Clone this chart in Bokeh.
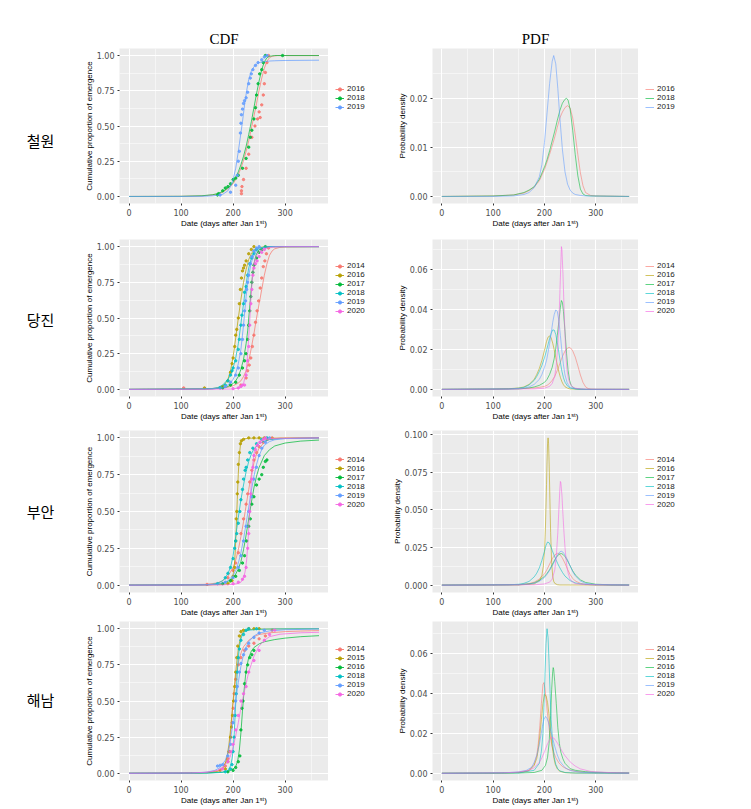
from bokeh.plotting import figure
from bokeh.models import Range1d, FixedTicker, NumeralTickFormatter, Legend, LegendItem
from bokeh.layouts import row, column
from bokeh.embed import file_html
from bokeh.resources import INLINE
from bokeh.core.properties import value

# ---------------- data (day, value) ----------------
SITE_NAMES = ["철원", "당진", "부안", "해남"]
CW_YEARS = ["2016", "2018", "2019"]
DJ_YEARS = ["2014", "2016", "2017", "2018", "2019", "2020"]
BA_YEARS = ["2014", "2016", "2017", "2018", "2019", "2020"]
HN_YEARS = ["2014", "2015", "2016", "2018", "2019", "2020"]

# ---- 철원 ----
CW_CDF_2016 = [(0,0),(100,0.001),(140,0.004),(160,0.01),(170,0.017),(180,0.03),(190,0.055),(200,0.09),(205,0.12),(210,0.155),(215,0.2),(220,0.255),(225,0.32),(230,0.395),(235,0.48),(240,0.57),(245,0.66),(250,0.755),(255,0.84),(260,0.91),(265,0.96),(270,0.985),(275,0.995),(285,1.0),(365,1.0)]
CW_CDF_2018 = [(0,0),(100,0.001),(140,0.005),(160,0.012),(170,0.02),(180,0.035),(190,0.06),(200,0.1),(205,0.135),(210,0.175),(215,0.225),(220,0.285),(225,0.355),(230,0.44),(235,0.53),(240,0.63),(245,0.73),(250,0.82),(255,0.9),(260,0.955),(265,0.985),(270,0.995),(280,1.0),(365,1.0)]
CW_CDF_2019 = [(0,0),(100,0.0),(140,0.001),(160,0.004),(170,0.008),(180,0.015),(190,0.04),(195,0.07),(200,0.12),(205,0.2),(210,0.32),(215,0.45),(218,0.53),(222,0.65),(226,0.75),(230,0.83),(235,0.89),(240,0.92),(245,0.94),(250,0.95),(260,0.957),(270,0.961),(280,0.963),(300,0.965),(365,0.967)]
CW_PDF_2016 = [(0,0),(100,0.0001),(140,0.0003),(160,0.0007),(170,0.0012),(180,0.0019),(190,0.0032),(200,0.0055),(205,0.007),(210,0.0086),(215,0.0103),(220,0.0121),(225,0.0141),(230,0.016),(235,0.0172),(240,0.0181),(245,0.0185),(250,0.018),(255,0.016),(260,0.0125),(265,0.0085),(270,0.0048),(275,0.0022),(280,0.0008),(290,0.0002),(300,0.0001),(365,0)]
CW_PDF_2018 = [(0,0),(100,0.0001),(140,0.0003),(160,0.0008),(170,0.0013),(180,0.002),(190,0.0035),(200,0.006),(205,0.0075),(210,0.0093),(215,0.0113),(220,0.0133),(225,0.0155),(230,0.0175),(235,0.019),(240,0.0198),(243,0.02),(246,0.0196),(250,0.0178),(255,0.0135),(260,0.0085),(265,0.0042),(270,0.0015),(275,0.0005),(280,0.0002),(290,0.0001),(365,0)]
CW_PDF_2019 = [(0,0),(100,0.0),(140,0.0001),(160,0.0004),(170,0.0008),(180,0.0018),(190,0.004),(195,0.0065),(200,0.011),(205,0.017),(210,0.023),(215,0.0275),(218,0.0287),(222,0.027),(226,0.022),(230,0.016),(235,0.0095),(240,0.005),(245,0.0025),(250,0.0013),(255,0.0007),(260,0.0004),(270,0.0002),(280,0.0001),(365,0)]
CW_OBS_2016 = [(216,0.02),(216,0.04),(217,0.07),(220,0.12),(225,0.2),(230,0.3),(236,0.42),(242,0.5),(247,0.55),(250,0.6),(252,0.56),(255,0.65),(258,0.72),(260,0.8),(262,0.88),(265,0.95),(268,1.0)]
CW_OBS_2018 = [(170,0.01),(172,0.02),(180,0.04),(185,0.06),(190,0.07),(195,0.09),(200,0.12),(205,0.13),(210,0.15),(218,0.2),(225,0.27),(230,0.35),(233,0.42),(236,0.47),(240,0.55),(243,0.63),(245,0.72),(248,0.8),(251,0.87),(255,0.9),(258,0.95),(262,1.0),(295,1.0)]
CW_OBS_2019 = [(175,0.01),(195,0.03),(205,0.08),(208,0.15),(210,0.25),(212,0.32),(214,0.45),(215,0.52),(216,0.58),(218,0.62),(220,0.66),(222,0.68),(225,0.7),(228,0.74),(230,0.8),(233,0.84),(235,0.87),(238,0.9),(243,0.93),(248,0.95),(255,0.97),(260,0.99),(265,1.0)]

# ---- 당진 ----
DJ_CDF_2014 = [(0,0),(100,0.002),(140,0.004),(160,0.006),(180,0.01),(190,0.015),(200,0.025),(210,0.045),(215,0.06),(220,0.09),(225,0.13),(230,0.2),(235,0.29),(240,0.39),(245,0.5),(250,0.6),(255,0.7),(260,0.8),(265,0.88),(270,0.94),(275,0.97),(280,0.985),(290,0.995),(300,0.998),(365,1.0)]
DJ_CDF_2016 = [(0,0),(140,0.002),(160,0.005),(170,0.01),(180,0.025),(185,0.04),(190,0.07),(195,0.13),(200,0.23),(205,0.36),(210,0.5),(215,0.63),(220,0.75),(225,0.84),(230,0.91),(235,0.95),(240,0.975),(245,0.99),(250,0.995),(260,0.999),(365,1.0)]
DJ_CDF_2017 = [(0,0),(160,0.003),(180,0.01),(190,0.02),(200,0.04),(205,0.06),(210,0.09),(215,0.14),(220,0.21),(225,0.32),(228,0.41),(231,0.54),(234,0.67),(237,0.79),(240,0.88),(244,0.94),(248,0.97),(252,0.985),(260,0.995),(270,1.0),(365,1.0)]
DJ_CDF_2018 = [(0,0),(140,0.002),(160,0.006),(170,0.012),(180,0.03),(190,0.07),(195,0.1),(200,0.15),(205,0.22),(210,0.32),(215,0.46),(220,0.6),(225,0.74),(230,0.85),(235,0.92),(240,0.96),(245,0.98),(250,0.99),(260,0.997),(270,1.0),(365,1.0)]
DJ_CDF_2019 = [(0,0),(160,0.003),(180,0.012),(190,0.03),(200,0.07),(205,0.11),(210,0.18),(215,0.28),(220,0.45),(225,0.65),(230,0.8),(235,0.89),(240,0.94),(245,0.97),(250,0.985),(260,0.995),(270,1.0),(365,1.0)]
DJ_CDF_2020 = [(0,0),(180,0.001),(200,0.002),(210,0.01),(220,0.04),(225,0.12),(228,0.25),(231,0.42),(234,0.62),(237,0.78),(240,0.88),(244,0.93),(248,0.955),(252,0.97),(260,0.985),(270,0.993),(280,0.997),(300,1.0),(365,1.0)]
DJ_PDF_2014 = [(0,0),(100,0.0001),(150,0.0003),(180,0.0007),(190,0.001),(200,0.0015),(205,0.002),(210,0.003),(215,0.0045),(220,0.0065),(225,0.0095),(230,0.013),(235,0.0165),(240,0.0192),(245,0.0207),(248,0.021),(251,0.0207),(255,0.0193),(260,0.0162),(265,0.0118),(270,0.0072),(275,0.0035),(280,0.0013),(285,0.0004),(290,0.0001),(300,0),(365,0)]
DJ_PDF_2016 = [(0,0),(100,0.0001),(130,0.0003),(150,0.0007),(160,0.0012),(170,0.0025),(180,0.005),(185,0.0075),(190,0.0105),(195,0.0145),(200,0.0195),(204,0.024),(207,0.0262),(210,0.0268),(213,0.0258),(216,0.0232),(219,0.0198),(222,0.016),(225,0.0122),(228,0.0088),(231,0.006),(234,0.0038),(237,0.0023),(240,0.0013),(245,0.0006),(250,0.0002),(260,0.0001),(270,0),(365,0)]
DJ_PDF_2017 = [(0,0),(150,0.0002),(170,0.0007),(180,0.0012),(190,0.002),(200,0.0035),(205,0.005),(210,0.0075),(215,0.011),(219,0.0155),(222,0.0205),(225,0.027),(228,0.034),(231,0.0412),(233,0.0445),(235,0.0435),(237,0.039),(240,0.029),(243,0.018),(246,0.0095),(249,0.0045),(252,0.002),(256,0.0008),(260,0.0004),(270,0.0001),(280,0),(365,0)]
DJ_PDF_2018 = [(0,0),(130,0.0002),(150,0.0006),(160,0.001),(170,0.0022),(180,0.0045),(185,0.0065),(190,0.009),(195,0.012),(200,0.0158),(204,0.0195),(207,0.0225),(210,0.0255),(213,0.028),(216,0.0298),(219,0.0297),(222,0.0275),(225,0.0235),(228,0.0185),(231,0.0135),(234,0.009),(237,0.0058),(240,0.0036),(245,0.0016),(250,0.0007),(260,0.0002),(270,0.0001),(280,0),(365,0)]
DJ_PDF_2019 = [(0,0),(140,0.0002),(160,0.0006),(170,0.0012),(180,0.0025),(190,0.005),(195,0.0075),(200,0.011),(204,0.0145),(207,0.0185),(210,0.023),(213,0.028),(216,0.0335),(219,0.0375),(222,0.0398),(225,0.039),(228,0.0345),(231,0.027),(234,0.019),(237,0.0122),(240,0.0072),(244,0.0035),(248,0.0016),(252,0.0008),(260,0.0003),(270,0.0001),(280,0),(365,0)]
DJ_PDF_2020 = [(0,0),(180,0.0002),(200,0.0006),(210,0.0015),(215,0.003),(220,0.0065),(223,0.012),(226,0.022),(228,0.033),(230,0.048),(232,0.064),(233,0.0715),(234,0.07),(236,0.058),(238,0.042),(240,0.027),(242,0.016),(244,0.0095),(247,0.005),(250,0.0028),(255,0.0012),(260,0.0006),(270,0.0002),(290,0.0001),(365,0)]
DJ_OBS_2014 = [(105,0.01),(215,0.03),(225,0.08),(228,0.13),(231,0.17),(234,0.22),(237,0.3),(240,0.38),(243,0.47),(246,0.55),(249,0.62),(252,0.71),(255,0.78),(258,0.86),(261,0.9),(264,0.95),(268,0.99)]
DJ_OBS_2016 = [(145,0.01),(180,0.02),(190,0.06),(195,0.12),(198,0.18),(200,0.22),(203,0.3),(205,0.38),(207,0.42),(210,0.5),(212,0.6),(214,0.7),(216,0.78),(218,0.83),(220,0.85),(222,0.87),(225,0.9),(230,0.95),(235,0.98),(240,1.0)]
DJ_OBS_2017 = [(180,0.01),(195,0.03),(205,0.05),(212,0.1),(218,0.15),(222,0.2),(225,0.25),(228,0.35),(230,0.45),(232,0.55),(234,0.65),(236,0.75),(238,0.82),(240,0.87),(245,0.92),(250,0.96),(255,0.98),(262,1.0)]
DJ_OBS_2018 = [(175,0.01),(185,0.03),(190,0.06),(195,0.1),(198,0.13),(200,0.15),(205,0.2),(210,0.28),(212,0.35),(215,0.45),(217,0.52),(220,0.6),(222,0.68),(225,0.72),(228,0.8),(232,0.88),(236,0.92),(240,0.95),(245,0.98)]
DJ_OBS_2019 = [(185,0.02),(195,0.05),(205,0.1),(210,0.15),(215,0.25),(218,0.35),(220,0.45),(222,0.55),(224,0.62),(226,0.7),(228,0.75),(230,0.8),(233,0.88),(236,0.93),(240,0.97),(245,0.99),(250,1.0)]
DJ_OBS_2020 = [(200,0.005),(210,0.01),(215,0.02),(218,0.03),(222,0.03),(225,0.1),(228,0.2),(230,0.3),(232,0.45),(234,0.6),(236,0.7),(238,0.8),(240,0.85),(243,0.88),(246,0.9),(250,0.93),(255,0.96),(260,0.98)]

# ---- 부안 ----
BA_CDF_2014 = [(0,0),(100,0.002),(150,0.006),(170,0.015),(180,0.03),(190,0.06),(200,0.12),(205,0.17),(210,0.24),(215,0.33),(220,0.43),(225,0.54),(230,0.65),(235,0.75),(240,0.83),(245,0.89),(250,0.93),(260,0.97),(270,0.99),(290,0.998),(365,1.0)]
BA_CDF_2016 = [(0,0),(150,0.001),(180,0.004),(190,0.01),(195,0.02),(198,0.04),(200,0.07),(202,0.12),(204,0.22),(206,0.39),(208,0.58),(210,0.76),(212,0.88),(214,0.95),(216,0.98),(220,0.993),(230,0.998),(365,1.0)]
BA_CDF_2017 = [(0,0),(150,0.002),(170,0.006),(180,0.012),(190,0.025),(200,0.05),(205,0.075),(210,0.11),(215,0.16),(220,0.24),(225,0.34),(230,0.45),(235,0.56),(240,0.66),(245,0.74),(250,0.8),(260,0.88),(270,0.92),(280,0.945),(300,0.965),(330,0.978),(365,0.985)]
BA_CDF_2018 = [(0,0),(140,0.002),(160,0.006),(170,0.012),(180,0.03),(185,0.05),(190,0.08),(195,0.12),(200,0.2),(205,0.33),(210,0.46),(215,0.58),(220,0.68),(225,0.77),(230,0.84),(235,0.89),(240,0.925),(250,0.96),(260,0.978),(270,0.988),(290,0.995),(365,1.0)]
BA_CDF_2019 = [(0,0),(150,0.002),(170,0.007),(180,0.015),(190,0.03),(200,0.065),(205,0.1),(210,0.15),(215,0.22),(220,0.31),(225,0.42),(230,0.53),(235,0.64),(240,0.74),(245,0.82),(250,0.88),(255,0.92),(260,0.95),(270,0.975),(280,0.987),(300,0.995),(365,0.999)]
BA_CDF_2020 = [(0,0),(180,0.001),(200,0.005),(210,0.012),(215,0.02),(220,0.05),(223,0.09),(226,0.17),(229,0.32),(231,0.45),(233,0.58),(235,0.7),(238,0.83),(241,0.91),(245,0.955),(250,0.977),(260,0.99),(280,0.997),(365,1.0)]
BA_PDF_2014 = [(0,0),(100,0.0001),(150,0.0003),(170,0.001),(180,0.002),(190,0.004),(200,0.0075),(205,0.0105),(210,0.014),(215,0.0175),(220,0.0201),(225,0.0212),(230,0.0205),(235,0.018),(240,0.0145),(245,0.0105),(250,0.007),(255,0.0045),(260,0.0028),(270,0.0012),(280,0.0005),(300,0.0001),(365,0)]
BA_PDF_2016 = [(0,0),(150,0.0001),(180,0.0008),(190,0.003),(195,0.0065),(198,0.013),(200,0.022),(202,0.04),(204,0.067),(205,0.082),(206,0.094),(207,0.098),(208,0.094),(209,0.082),(210,0.066),(211,0.05),(212,0.035),(214,0.015),(216,0.006),(218,0.0025),(220,0.0012),(225,0.0003),(230,0.0001),(365,0)]
BA_PDF_2017 = [(0,0),(150,0.0003),(170,0.0008),(180,0.0015),(190,0.0032),(200,0.0058),(205,0.0078),(210,0.0103),(215,0.0135),(220,0.0168),(225,0.0195),(230,0.0208),(233,0.021),(236,0.0205),(240,0.019),(245,0.0162),(250,0.0128),(255,0.0095),(260,0.0068),(270,0.0035),(280,0.0018),(300,0.0006),(330,0.0002),(365,0.0001)]
BA_PDF_2018 = [(0,0),(130,0.0002),(150,0.0006),(160,0.0012),(170,0.0025),(180,0.0055),(185,0.008),(190,0.0115),(195,0.0165),(200,0.0225),(203,0.0265),(206,0.0287),(209,0.0282),(212,0.026),(215,0.0232),(218,0.0205),(222,0.0172),(226,0.0142),(230,0.0115),(235,0.0085),(240,0.006),(250,0.003),(260,0.0015),(270,0.0008),(290,0.0003),(330,0.0001),(365,0)]
BA_PDF_2019 = [(0,0),(150,0.0002),(170,0.0007),(180,0.0013),(190,0.0025),(200,0.005),(205,0.0072),(210,0.0098),(215,0.0128),(220,0.016),(225,0.0198),(230,0.0222),(233,0.0225),(236,0.022),(240,0.02),(245,0.0167),(250,0.0128),(255,0.009),(260,0.0062),(270,0.0028),(280,0.0012),(300,0.0003),(365,0.0001)]
BA_PDF_2020 = [(0,0),(180,0.0002),(200,0.0008),(210,0.002),(215,0.004),(220,0.01),(223,0.019),(226,0.035),(228,0.05),(230,0.064),(231,0.069),(232,0.068),(234,0.06),(236,0.047),(238,0.035),(240,0.025),(243,0.014),(246,0.008),(250,0.004),(255,0.002),(260,0.001),(280,0.0003),(365,0)]
BA_OBS_2014 = [(150,0.005),(190,0.05),(200,0.1),(205,0.15),(210,0.22),(215,0.35),(220,0.45),(225,0.55),(228,0.62),(232,0.7),(236,0.78),(240,0.85),(245,0.9),(250,0.94),(258,0.97),(265,0.99),(275,1.0)]
BA_OBS_2016 = [(190,0.01),(198,0.03),(200,0.06),(203,0.12),(205,0.3),(206,0.45),(207,0.5),(208,0.62),(209,0.7),(210,0.82),(212,0.9),(214,0.96),(216,0.98),(220,0.99),(230,1.0),(240,1.0),(250,1.0),(260,1.0)]
BA_OBS_2017 = [(180,0.01),(195,0.03),(205,0.06),(212,0.1),(218,0.15),(222,0.2),(226,0.3),(230,0.4),(233,0.45),(236,0.55),(240,0.6),(245,0.68),(250,0.72),(255,0.75),(258,0.8),(262,0.84),(265,0.85)]
BA_OBS_2018 = [(170,0.01),(185,0.05),(190,0.08),(195,0.12),(200,0.18),(203,0.25),(205,0.3),(207,0.35),(210,0.42),(213,0.5),(215,0.58),(218,0.65),(220,0.72),(223,0.78),(225,0.8),(228,0.85),(232,0.9),(238,0.93),(245,0.96),(255,0.99),(265,1.0)]
BA_OBS_2019 = [(185,0.02),(200,0.05),(210,0.12),(215,0.2),(220,0.3),(225,0.4),(230,0.5),(235,0.6),(240,0.72),(245,0.8),(250,0.88),(255,0.93),(262,0.97),(270,1.0)]
BA_OBS_2020 = [(200,0.01),(210,0.02),(218,0.04),(222,0.06),(225,0.12),(228,0.25),(230,0.35),(232,0.5),(234,0.62),(236,0.72),(238,0.8),(240,0.88),(243,0.92),(247,0.95),(252,0.97),(258,0.99),(262,1.0)]

# ---- 해남 ----
HN_CDF_2014 = [(0,0),(100,0.001),(140,0.004),(160,0.01),(170,0.018),(180,0.04),(185,0.07),(190,0.13),(193,0.19),(196,0.31),(199,0.445),(202,0.565),(205,0.655),(208,0.73),(212,0.795),(216,0.84),(220,0.875),(230,0.92),(240,0.945),(250,0.96),(270,0.972),(300,0.98),(330,0.984),(365,0.987)]
HN_CDF_2015 = [(0,0),(120,0.001),(150,0.004),(170,0.012),(180,0.03),(183,0.055),(186,0.08),(189,0.13),(192,0.2),(195,0.3),(198,0.42),(201,0.54),(204,0.66),(207,0.77),(210,0.86),(213,0.92),(216,0.96),(220,0.98),(230,0.993),(240,0.998),(365,1.0)]
HN_CDF_2016 = [(0,0),(150,0.002),(180,0.008),(195,0.02),(202,0.035),(206,0.055),(209,0.09),(212,0.16),(215,0.28),(218,0.43),(221,0.57),(224,0.68),(227,0.75),(230,0.8),(235,0.845),(240,0.87),(250,0.895),(260,0.91),(280,0.925),(300,0.935),(330,0.945),(365,0.952)]
HN_CDF_2018 = [(0,0),(150,0.001),(180,0.006),(190,0.02),(195,0.05),(198,0.1),(200,0.16),(202,0.27),(204,0.41),(206,0.56),(208,0.7),(210,0.8),(212,0.87),(215,0.93),(218,0.96),(222,0.98),(230,0.99),(250,0.996),(280,0.999),(365,1.0)]
HN_CDF_2019 = [(0,0),(120,0.002),(150,0.008),(165,0.02),(175,0.04),(185,0.09),(190,0.14),(195,0.23),(200,0.36),(205,0.5),(210,0.63),(215,0.74),(220,0.82),(225,0.875),(230,0.91),(240,0.95),(250,0.97),(270,0.985),(300,0.993),(365,0.998)]
HN_CDF_2020 = [(0,0),(120,0.002),(150,0.007),(170,0.02),(180,0.04),(190,0.08),(195,0.12),(200,0.18),(205,0.26),(210,0.35),(215,0.45),(220,0.54),(225,0.62),(230,0.7),(240,0.81),(250,0.88),(260,0.92),(270,0.945),(290,0.962),(330,0.972),(365,0.975)]
HN_PDF_2014 = [(0,0),(100,0.0001),(140,0.0003),(160,0.0007),(170,0.0015),(180,0.0045),(185,0.009),(188,0.015),(191,0.024),(194,0.035),(197,0.0445),(199,0.0455),(201,0.0425),(204,0.035),(207,0.027),(210,0.0205),(214,0.0145),(218,0.0105),(222,0.0078),(228,0.0052),(235,0.0034),(245,0.002),(260,0.001),(280,0.0005),(300,0.0003),(330,0.0002),(365,0.0001)]
HN_PDF_2015 = [(0,0),(120,0.0001),(150,0.0004),(170,0.0013),(180,0.004),(185,0.0075),(188,0.012),(191,0.019),(194,0.027),(197,0.035),(200,0.0395),(203,0.039),(206,0.0355),(209,0.029),(212,0.021),(215,0.0135),(218,0.008),(221,0.0045),(225,0.0022),(230,0.001),(240,0.0003),(260,0.0001),(365,0)]
HN_PDF_2016 = [(0,0),(150,0.0001),(180,0.0004),(195,0.0015),(202,0.004),(206,0.008),(209,0.015),(212,0.029),(214,0.042),(216,0.051),(217,0.053),(218,0.052),(220,0.046),(223,0.035),(226,0.023),(229,0.015),(232,0.0105),(236,0.0072),(240,0.005),(250,0.0023),(260,0.0015),(280,0.0008),(300,0.0005),(330,0.0003),(365,0.0002)]
HN_PDF_2018 = [(0,0),(150,0.0002),(180,0.0015),(190,0.005),(194,0.011),(197,0.02),(199,0.033),(201,0.05),(203,0.065),(205,0.0725),(207,0.068),(209,0.055),(211,0.04),(213,0.027),(216,0.015),(219,0.008),(222,0.0045),(226,0.0022),(230,0.0012),(240,0.0004),(260,0.0001),(365,0)]
HN_PDF_2019 = [(0,0),(120,0.0002),(150,0.0007),(165,0.0015),(175,0.003),(180,0.0055),(185,0.009),(190,0.0145),(193,0.019),(196,0.0235),(199,0.027),(202,0.0285),(205,0.0275),(208,0.0255),(211,0.0225),(215,0.0185),(220,0.0135),(225,0.0092),(230,0.006),(240,0.0028),(250,0.0014),(270,0.0005),(300,0.0002),(365,0.0001)]
HN_PDF_2020 = [(0,0),(120,0.0002),(150,0.0006),(170,0.0015),(180,0.0028),(190,0.0055),(195,0.0078),(200,0.0108),(205,0.0142),(210,0.0168),(214,0.018),(218,0.0177),(222,0.0164),(226,0.0148),(230,0.013),(235,0.0108),(240,0.0088),(250,0.0057),(260,0.0036),(270,0.0022),(290,0.0009),(330,0.0003),(365,0.0001)]
HN_OBS_2014 = [(175,0.02),(185,0.05),(190,0.1),(192,0.15),(195,0.25),(198,0.35),(200,0.45),(202,0.55),(205,0.65),(210,0.75),(215,0.8),(222,0.85),(230,0.88),(240,0.9),(250,0.93),(262,0.95),(275,0.99)]
HN_OBS_2015 = [(185,0.03),(190,0.08),(193,0.15),(195,0.25),(197,0.32),(199,0.4),(201,0.5),(203,0.6),(205,0.7),(207,0.8),(209,0.88),(212,0.95),(215,0.98),(220,0.99),(230,1.0),(240,1.0),(250,1.0)]
HN_OBS_2016 = [(190,0.01),(200,0.02),(205,0.04),(210,0.08),(213,0.12),(215,0.3),(217,0.45),(219,0.5),(222,0.62),(225,0.7),(228,0.75),(232,0.8),(236,0.82),(240,0.85)]
HN_OBS_2018 = [(185,0.01),(195,0.03),(198,0.06),(200,0.15),(202,0.25),(204,0.4),(206,0.55),(208,0.7),(210,0.8),(212,0.86),(215,0.92),(220,0.96),(225,0.99),(230,1.0),(245,1.0)]
HN_OBS_2019 = [(170,0.05),(175,0.055),(180,0.06),(190,0.12),(195,0.2),(200,0.35),(205,0.5),(208,0.6),(212,0.7),(215,0.76),(220,0.82),(225,0.86),(230,0.9),(240,0.94),(250,0.97),(260,0.99)]
HN_OBS_2020 = [(180,0.03),(190,0.08),(195,0.15),(200,0.2),(205,0.3),(210,0.4),(215,0.5),(220,0.55),(225,0.6),(230,0.7),(240,0.78),(250,0.85),(260,0.92),(270,0.96),(280,0.99)]

X_TICKS = [0, 100, 200, 300]
CDF_TICKS = [0, 0.25, 0.5, 0.75, 1.0]
PDF_TICKS = [[0, 0.01, 0.02], [0, 0.02, 0.04, 0.06], [0, 0.025, 0.05, 0.075, 0.1], [0, 0.02, 0.04, 0.06]]
PDF_FMT = ["0.00", "0.00", "0.000", "0.00"]

# ---------------- style / layout ----------------
PAL3 = ["#F8766D", "#00BA38", "#619CFF"]
PAL6 = ["#F8766D", "#B79F00", "#00BA38", "#00BFC4", "#619CFF", "#F564E3"]
ROW_DIMS = [(48, 156), (9, 158), (7, 163), (2, 160)]   # (top border, frame height)
BOTTOM = 26
LABEL_W = 78
CDF_L, CDF_FW, CDF_LEG = 41, 209, 54
PDF_L, PDF_FW, PDF_LEG = 50, 206, 62
XLAB = "Date (days after Jan 1\u02e2\u1d57)"
LEG_ROW = 8
NAN = float("nan")


def xs(pairs):
    return [q[0] for q in pairs]


def ys(pairs):
    return [q[1] for q in pairs]


def minors(ticks):
    step = ticks[1] - ticks[0]
    return [t + step / 2 for t in ticks]


def make_panel(kind, years, colors, curves, obs, yticks, yfmt, top, fh, title=None):
    allv = [v for c in curves for v in ys(c)]
    if obs:
        allv += [v for o in obs for v in ys(o)]
    lo, hi = min(allv), max(allv)
    pad = 0.05 * (hi - lo)
    allx = [v for c in curves for v in xs(c)]
    xlo, xhi = min(allx), max(allx)
    xpad = 0.05 * (xhi - xlo)
    if kind == "cdf":
        l, fw = CDF_L, CDF_FW
        ylab = "Cumulative proportion of emergence"
    else:
        l, fw = PDF_L, PDF_FW
        ylab = "Probability density"
    p = figure(width=l + fw, height=top + fh + BOTTOM,
               x_range=Range1d(xlo - xpad, xhi + xpad), y_range=Range1d(lo - pad, hi + pad),
               output_backend="svg", toolbar_location=None,
               min_border_left=l, min_border_right=0, min_border_top=top, min_border_bottom=BOTTOM,
               background_fill_color="#EBEBEB", border_fill_color="white", outline_line_color=None)
    if title:
        p.title.text = title
        p.title.align = "center"
        p.title.text_font = "Liberation Serif"
        p.title.text_font_size = "15px"
        p.title.text_font_style = "normal"
        p.title.text_color = "black"
        p.title.standoff = 3
    xt = FixedTicker(ticks=X_TICKS, minor_ticks=minors(X_TICKS))
    yt = FixedTicker(ticks=yticks, minor_ticks=[m for m in minors(yticks) if m < hi + pad])
    p.xaxis.ticker = xt
    p.yaxis.ticker = yt
    p.xgrid.ticker = xt
    p.ygrid.ticker = yt
    p.yaxis.formatter = NumeralTickFormatter(format=yfmt)
    for g in (p.xgrid, p.ygrid):
        g.grid_line_color = "white"
        g.grid_line_width = 1.1
        g.minor_grid_line_color = "white"
        g.minor_grid_line_width = 0.5
    p.xaxis.axis_label = XLAB
    p.yaxis.axis_label = ylab
    for ax in (p.xaxis[0], p.yaxis[0]):
        ax.axis_line_color = None
        ax.major_tick_line_color = "#333333"
        ax.major_tick_out = 2
        ax.major_tick_in = 0
        ax.minor_tick_line_color = None
        ax.major_label_text_font = "DejaVu Sans"
        ax.major_label_text_font_size = "8px"
        ax.major_label_text_color = "#4D4D4D"
        ax.major_label_standoff = 1
        ax.axis_label_text_font = "Liberation Sans"
        ax.axis_label_text_font_size = "8px"
        ax.axis_label_text_font_style = "normal"
        ax.axis_label_text_color = "black"
        ax.axis_label_standoff = 0
    for i, (col, c) in enumerate(zip(colors, curves)):
        if kind == "cdf":
            p.line(xs(c), ys(c), line_color=col, line_width=0.8, line_alpha=0.9)
            p.scatter(xs(obs[i]), ys(obs[i]), size=2.4, fill_color=col, line_color=col, alpha=0.85)
        else:
            p.line(xs(c), ys(c), line_color=col, line_width=0.8, line_alpha=0.7)
    return p


def make_legend(kind, years, colors, top, fh):
    h = top + fh + BOTTOM
    w = CDF_LEG if kind == "cdf" else PDF_LEG
    lf = figure(width=w, height=h, x_range=Range1d(0, 1), y_range=Range1d(0, 1),
                x_axis_type=None, y_axis_type=None, output_backend="svg", toolbar_location=None,
                min_border=0, outline_line_color=None, background_fill_color="white")
    lf.grid.visible = False
    items = []
    for yr, col in zip(years, colors):
        # legend keys only: placeholder renderers with no visible data
        if kind == "cdf":
            rs = [lf.line([NAN], [NAN], line_color=col, line_width=0.9),
                  lf.scatter([NAN], [NAN], size=3, fill_color=col, line_color=col)]
        else:
            rs = [lf.line([NAN], [NAN], line_color=col, line_width=0.9, line_alpha=0.7)]
        items.append(LegendItem(label=yr, renderers=rs))
    n = len(items)
    leg = Legend(items=items, location=(7, BOTTOM + fh / 2 - n * LEG_ROW / 2), orientation="vertical",
                 label_text_font="Liberation Sans", label_text_font_size="8px", label_text_color="#1A1A1A",
                 glyph_width=9, glyph_height=LEG_ROW, label_height=LEG_ROW, spacing=0, padding=0, margin=0,
                 label_standoff=3, background_fill_alpha=0, border_line_alpha=0)
    lf.add_layout(leg)
    return lf


def make_label(text, top, fh):
    h = top + fh + BOTTOM
    lf = figure(width=LABEL_W, height=h, x_range=Range1d(0, LABEL_W), y_range=Range1d(0, h),
                x_axis_type=None, y_axis_type=None, output_backend="svg", toolbar_location=None,
                min_border=0, outline_line_color=None, background_fill_color="white")
    lf.grid.visible = False
    lf.text(x=[40], y=[h - (top + fh / 2 + 10)], text=[text], text_align="center", text_baseline="middle",
            text_font=value("Noto Sans CJK KR"), text_font_size=value("15px"), text_color="black")
    return lf


SITES = [
    (CW_YEARS, PAL3, [CW_CDF_2016, CW_CDF_2018, CW_CDF_2019], [CW_PDF_2016, CW_PDF_2018, CW_PDF_2019],
     [CW_OBS_2016, CW_OBS_2018, CW_OBS_2019]),
    (DJ_YEARS, PAL6, [DJ_CDF_2014, DJ_CDF_2016, DJ_CDF_2017, DJ_CDF_2018, DJ_CDF_2019, DJ_CDF_2020],
     [DJ_PDF_2014, DJ_PDF_2016, DJ_PDF_2017, DJ_PDF_2018, DJ_PDF_2019, DJ_PDF_2020],
     [DJ_OBS_2014, DJ_OBS_2016, DJ_OBS_2017, DJ_OBS_2018, DJ_OBS_2019, DJ_OBS_2020]),
    (BA_YEARS, PAL6, [BA_CDF_2014, BA_CDF_2016, BA_CDF_2017, BA_CDF_2018, BA_CDF_2019, BA_CDF_2020],
     [BA_PDF_2014, BA_PDF_2016, BA_PDF_2017, BA_PDF_2018, BA_PDF_2019, BA_PDF_2020],
     [BA_OBS_2014, BA_OBS_2016, BA_OBS_2017, BA_OBS_2018, BA_OBS_2019, BA_OBS_2020]),
    (HN_YEARS, PAL6, [HN_CDF_2014, HN_CDF_2015, HN_CDF_2016, HN_CDF_2018, HN_CDF_2019, HN_CDF_2020],
     [HN_PDF_2014, HN_PDF_2015, HN_PDF_2016, HN_PDF_2018, HN_PDF_2019, HN_PDF_2020],
     [HN_OBS_2014, HN_OBS_2015, HN_OBS_2016, HN_OBS_2018, HN_OBS_2019, HN_OBS_2020]),
]

rows = []
for i, (yrs, pal, cdfs, pdfs, obss) in enumerate(SITES):
    top, fh = ROW_DIMS[i]
    lab = make_label(SITE_NAMES[i], top, fh)
    pc = make_panel("cdf", yrs, pal, cdfs, obss, CDF_TICKS, "0.00", top, fh, "CDF" if i == 0 else None)
    lc = make_legend("cdf", yrs, pal, top, fh)
    pp = make_panel("pdf", yrs, pal, pdfs, None, PDF_TICKS[i], PDF_FMT[i], top, fh, "PDF" if i == 0 else None)
    lp = make_legend("pdf", yrs, pal, top, fh)
    rows.append(row(lab, pc, lc, pp, lp))

layout = column(*rows)
open("out.html", "w").write(file_html(layout, INLINE))
